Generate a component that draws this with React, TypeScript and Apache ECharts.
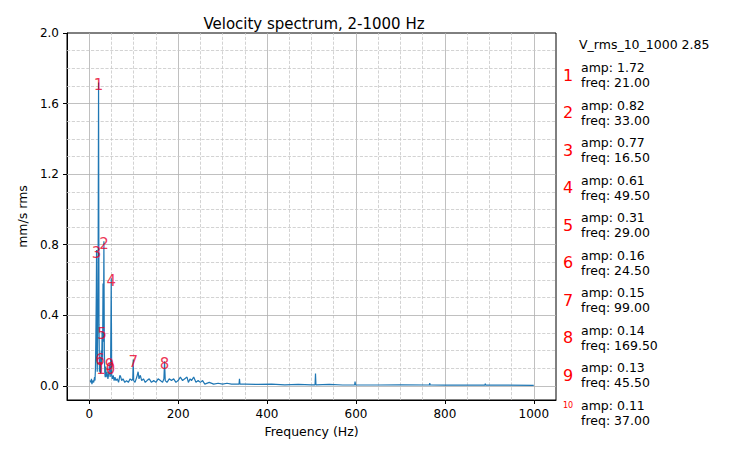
import React, { useEffect, useRef } from "react";
import * as echarts from "echarts";

const spectrum: [number, number][] = [
  [2, 0.03], [4, 0.02], [5, 0.04], [6, 0.01], [8, 0.03], [10, 0.02], [12, 0.05], [13, 0.03],
  [14, 0.1], [15, 0.3], [16, 0.55], [16.5, 0.77], [17, 0.2], [18, 0.08], [19, 0.3],
  [20, 0.7], [21, 1.72], [22, 0.35], [23, 0.08], [24, 0.1], [24.5, 0.16], [25, 0.07],
  [26, 0.09], [27, 0.2], [28, 0.12], [29, 0.31], [30, 0.15], [31, 0.58], [32, 0.25],
  [33, 0.82], [34, 0.2], [35, 0.07], [36, 0.05], [37, 0.11], [38, 0.05], [40, 0.08],
  [42, 0.04], [44, 0.07], [45.5, 0.13], [47, 0.05], [48, 0.08], [49.5, 0.61], [50.5, 0.06],
  [52, 0.04], [54, 0.06], [56, 0.03], [58, 0.05], [60, 0.03], [63, 0.04], [66, 0.02],
  [69, 0.06], [71, 0.05], [73, 0.03], [76, 0.04], [80, 0.02], [84, 0.03], [88, 0.02],
  [92, 0.04], [96, 0.03], [98, 0.04], [99, 0.15], [100, 0.03], [103, 0.02], [107, 0.05],
  [110, 0.08], [112, 0.04], [115, 0.06], [118, 0.03], [122, 0.04], [126, 0.02],
  [130, 0.03], [135, 0.04], [140, 0.02], [145, 0.03], [150, 0.02], [155, 0.04],
  [160, 0.03], [165, 0.02], [168, 0.04], [169.5, 0.14], [171, 0.03], [175, 0.02],
  [180, 0.04], [185, 0.03], [190, 0.04], [195, 0.02], [200, 0.03], [205, 0.05],
  [210, 0.03], [215, 0.04], [220, 0.05], [223, 0.02], [227, 0.04], [230, 0.03],
  [235, 0.05], [240, 0.02], [245, 0.03], [250, 0.02], [255, 0.03], [260, 0.01],
  [270, 0.02], [280, 0.01], [290, 0.015], [300, 0.01], [310, 0.015], [320, 0.01],
  [330, 0.01], [337, 0.01], [338, 0.04], [339, 0.01], [350, 0.01], [380, 0.008],
  [410, 0.01], [440, 0.006], [470, 0.008], [500, 0.006], [508, 0.006], [509, 0.07],
  [510, 0.006], [540, 0.008], [570, 0.005], [597, 0.005], [598, 0.025], [599, 0.005],
  [650, 0.005], [700, 0.006], [765, 0.005], [766, 0.015], [767, 0.005], [800, 0.004],
  [860, 0.004], [890, 0.004], [891, 0.012], [892, 0.004], [940, 0.004], [1000, 0.003],
];

const peakAmp = [1.72, 0.82, 0.77, 0.61, 0.31, 0.16, 0.15, 0.14, 0.13, 0.11];
const peakFreq = [21.0, 33.0, 16.5, 49.5, 29.0, 24.5, 99.0, 169.5, 45.5, 37.0];
const rmsLabel = "V_rms_10_1000 2.85";
const xTicks = [0, 200, 400, 600, 800, 1000];
const xMinor = [50, 100, 150, 250, 300, 350, 450, 500, 550, 650, 700, 750, 850, 900, 950];
const yTicks = [0, 0.4, 0.8, 1.2, 1.6, 2.0];
const yMinor = [0.1, 0.2, 0.3, 0.5, 0.6, 0.7, 0.9, 1.0, 1.1, 1.3, 1.4, 1.5, 1.7, 1.8, 1.9];

const App: React.FC = () => {
  const ref = useRef<HTMLDivElement>(null);

  useEffect(() => {
    if (!ref.current) return undefined;
    const chart = echarts.init(ref.current, null, { renderer: "svg" });

    const graphic: any[] = [
      {
        type: "text", left: 571, top: 30,
        style: { text: rmsLabel, fontSize: 12.5, fill: "#000", fontFamily: "DejaVu Sans" },
      },
    ];
    peakAmp.forEach((a, i) => {
      const top = 52 + i * 37.5;
      graphic.push({
        type: "text", left: 555, top: i === 9 ? top + 4 : top + 7,
        style: { text: String(i + 1), fontSize: i === 9 ? 8 : 16, fill: "#ff0000", fontFamily: "DejaVu Sans" },
      });
      graphic.push({
        type: "text", left: 573, top,
        style: {
          text: `amp: ${a.toFixed(2)}\nfreq: ${peakFreq[i].toFixed(2)}`,
          fontSize: 12.5, lineHeight: 15, fill: "#000", fontFamily: "DejaVu Sans",
        },
      });
    });

    const solid = { color: "#b0b0b0", type: "solid", width: 0.8 };
    const dashed = { color: "#c8c8c8", type: "dashed", width: 0.8 };

    chart.setOption({
      animation: false,
      textStyle: { fontFamily: "DejaVu Sans" },
      title: {
        text: "Velocity spectrum, 2-1000 Hz", left: 301, top: 3, textAlign: "center",
        textStyle: { fontSize: 15, fontWeight: "normal", color: "#000" },
      },
      grid: { left: 54, right: 175, top: 25, bottom: 47, show: true, borderColor: "#000", borderWidth: 1 },
      xAxis: {
        type: "value", min: -50, max: 1050,
        name: "Frequency (Hz)", nameLocation: "middle", nameGap: 24,
        nameTextStyle: { fontSize: 12.5, color: "#000" },
        axisLine: { onZero: false, lineStyle: { color: "#000" } },
        axisTick: { show: true, length: 4, lineStyle: { color: "#000" }, customValues: xTicks },
        axisLabel: { color: "#000", fontSize: 12, customValues: xTicks, formatter: (v: number) => String(v) },
        splitLine: { show: false },
      },
      yAxis: {
        type: "value", min: -0.08, max: 2.0,
        name: "mm/s rms", nameLocation: "middle", nameGap: 38,
        nameTextStyle: { fontSize: 12.5, color: "#000" },
        axisLine: { show: true, onZero: false, lineStyle: { color: "#000" } },
        axisTick: { show: true, length: 4, lineStyle: { color: "#000" }, customValues: yTicks },
        axisLabel: {
          color: "#000", fontSize: 12, customValues: yTicks,
          formatter: (v: number) => v.toFixed(1),
        },
        splitLine: { show: false },
      },
      graphic,
      series: [
        {
          type: "line", data: spectrum, symbol: "none",
          lineStyle: { color: "#1f77b4", width: 1.2 }, z: 3,
          markLine: {
            silent: true, symbol: "none", label: { show: false }, z: 1,
            data: [
              ...xTicks.map((x) => ({ xAxis: x, lineStyle: solid })),
              ...xMinor.map((x) => ({ xAxis: x, lineStyle: dashed })),
              ...yTicks.slice(0, 5).map((y) => ({ yAxis: y, lineStyle: solid })),
              ...yMinor.map((y) => ({ yAxis: y, lineStyle: dashed })),
            ],
          },
        },
        {
          type: "scatter", symbolSize: 0, z: 5,
          data: peakFreq.map((f, i) => [f, peakAmp[i], i + 1]),
          label: {
            show: true, position: "top", distance: -10,
            formatter: (p: any) => String(p.value[2]), color: "#e8002a", fontSize: 15,
          },
        },
      ],
    });

    return () => chart.dispose();
  }, []);

  return <div ref={ref} style={{ width: 723, height: 439 }} />;
};

export default App;
